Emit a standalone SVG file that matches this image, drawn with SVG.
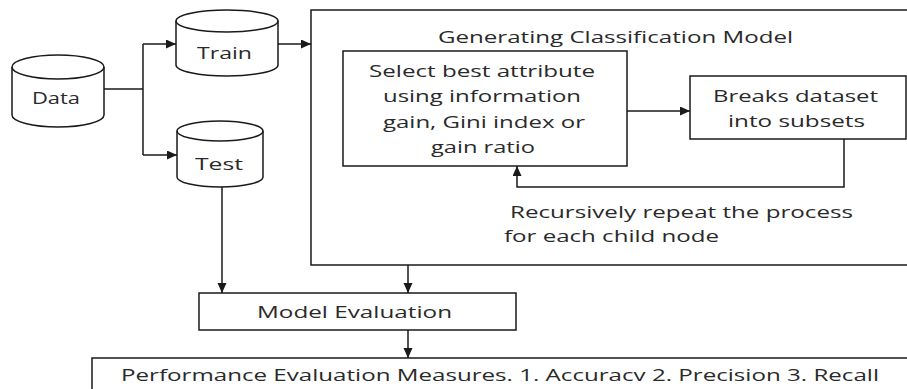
<svg xmlns="http://www.w3.org/2000/svg" width="907" height="389" viewBox="0 0 907 389">
<style>
.s{fill:#fff;stroke:#1a1a1a;stroke-width:1.5}
.c{fill:none;stroke:#1a1a1a;stroke-width:1.5}
text{font-family:"Open Sans","Noto Sans","Liberation Sans",sans-serif;font-size:16.5px;fill:#2a2a2a}
</style>
<defs>
<marker id="ah" markerUnits="userSpaceOnUse" markerWidth="11" markerHeight="10" refX="10" refY="4.5" orient="auto">
<path d="M0,0 L10,4.5 L0,9 z" fill="#1a1a1a"/>
</marker>
</defs>
<rect width="907" height="389" fill="#fff"/>
<g id="data">
<path class="s" d="M12,67 A46,12 0 0 1 104,67 L104,115 A46,12 0 0 1 12,115 Z"/>
<path class="c" d="M12,67 A46,12 0 0 0 104,67"/>
<text x="32" y="104" textLength="48" lengthAdjust="spacingAndGlyphs">Data</text>
</g>
<g id="train">
<path class="s" d="M176,21 A51,11 0 0 1 278,21 L278,65 A51,11 0 0 1 176,65 Z"/>
<path class="c" d="M176,21 A51,11 0 0 0 278,21"/>
<text x="197" y="59" textLength="55" lengthAdjust="spacingAndGlyphs">Train</text>
</g>
<g id="test">
<path class="s" d="M177,131 A43,10 0 0 1 263,131 L263,177 A43,10 0 0 1 177,177 Z"/>
<path class="c" d="M177,131 A43,10 0 0 0 263,131"/>
<text x="195" y="170" textLength="48" lengthAdjust="spacingAndGlyphs">Test</text>
</g>
<g id="generating">
<rect class="s" x="311" y="10" width="640" height="255"/>
<text x="438" y="43" textLength="355" lengthAdjust="spacingAndGlyphs">Generating Classification Model</text>
</g>
<g id="select">
<rect class="s" x="343" y="51" width="284" height="115"/>
<text x="369" y="77" textLength="226" lengthAdjust="spacingAndGlyphs">Select best attribute</text>
<text x="383" y="102" textLength="198" lengthAdjust="spacingAndGlyphs">using information</text>
<text x="383" y="128" textLength="202" lengthAdjust="spacingAndGlyphs">gain, Gini index or</text>
<text x="431" y="153" textLength="104" lengthAdjust="spacingAndGlyphs">gain ratio</text>
</g>
<g id="breaks">
<rect class="s" x="690" y="76" width="216" height="63"/>
<text x="713" y="102" textLength="165" lengthAdjust="spacingAndGlyphs">Breaks dataset</text>
<text x="728" y="127" textLength="137" lengthAdjust="spacingAndGlyphs">into subsets</text>
</g>
<g id="recursive-label">
<text x="510" y="218" textLength="343" lengthAdjust="spacingAndGlyphs">Recursively repeat the process</text>
<text x="504" y="242" textLength="215" lengthAdjust="spacingAndGlyphs">for each child node</text>
</g>
<g id="model-eval">
<rect class="s" x="199" y="293" width="317" height="37"/>
<text x="257" y="318" textLength="195" lengthAdjust="spacingAndGlyphs">Model Evaluation</text>
</g>
<g id="performance">
<rect class="s" x="92" y="358" width="860" height="60"/>
<text x="121" y="381" textLength="758" lengthAdjust="spacingAndGlyphs">Performance Evaluation Measures. 1. Accuracv 2.  Precision 3.  Recall</text>
</g>
<g id="connectors">
<path class="c" d="M104,89 H143 M143,44 V155"/>
<path class="c" d="M143,44 H176" marker-end="url(#ah)"/>
<path class="c" d="M143,155 H177" marker-end="url(#ah)"/>
<path class="c" d="M278,44 H311" marker-end="url(#ah)"/>
<path class="c" d="M627,111 H690" marker-end="url(#ah)"/>
<path class="c" d="M844,139 V187 H517 V166" marker-end="url(#ah)"/>
<path class="c" d="M222,187 V293" marker-end="url(#ah)"/>
<path class="c" d="M408,265 V293" marker-end="url(#ah)"/>
<path class="c" d="M408,330 V358" marker-end="url(#ah)"/>
</g>
</svg>
